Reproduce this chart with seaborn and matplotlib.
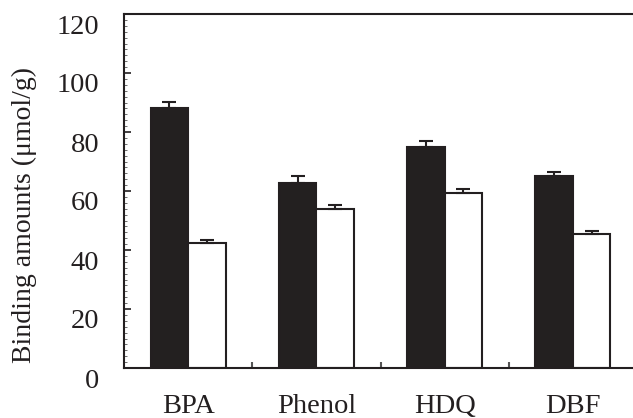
import matplotlib
matplotlib.use("Agg")
import matplotlib.pyplot as plt
import matplotlib.transforms as mtransforms
import pandas as pd
import seaborn as sns
from matplotlib.ticker import MultipleLocator, FixedLocator

compounds = ["BPA", "Phenol", "HDQ", "DBF"]
series = ["MIP", "NIP"]
mip_values = [88.2, 62.7, 75.0, 65.1]
nip_values = [42.3, 54.0, 59.2, 45.4]
mip_err = [2.0, 2.3, 2.0, 1.5]
nip_err = [1.2, 1.4, 1.5, 1.0]

df = pd.DataFrame({
    "compound": compounds * 2,
    "polymer": [series[0]] * 4 + [series[1]] * 4,
    "value": mip_values + nip_values,
})

sns.set_style("ticks")
plt.rcParams["font.family"] = ["Liberation Serif", "DejaVu Serif"]

dark = "#231f20"
fig = plt.figure(figsize=(6.33, 4.18), dpi=100)
ax = fig.add_axes([124 / 633, 50 / 418, 509 / 633, 354 / 418])

sns.barplot(data=df, x="compound", y="value", hue="polymer",
            hue_order=series, order=compounds,
            palette=[dark, "white"], edgecolor=dark, linewidth=1.5,
            width=0.585, errorbar=None, legend=False, ax=ax)

# upper error bars only
for cont, errs in zip(ax.containers, [mip_err, nip_err]):
    xs = [p.get_x() + p.get_width() / 2 for p in cont.patches]
    ys = [p.get_height() for p in cont.patches]
    ax.errorbar(xs, ys, yerr=[[0] * len(errs), errs], fmt="none",
                ecolor=dark, elinewidth=1.5, capsize=5, capthick=1.5, zorder=3)

ax.set_ylim(0, 120)
ax.set_xlim(-0.5, 3.5 - 4 / 128)
ax.yaxis.set_major_locator(MultipleLocator(20))
ax.yaxis.set_minor_locator(MultipleLocator(2))
ax.xaxis.set_minor_locator(FixedLocator([0.5, 1.5, 2.5]))

ax.tick_params(axis="y", which="major", direction="in", length=5, width=1.2,
               color=dark, labelsize=20.5, pad=18, labelcolor=dark)
ax.tick_params(axis="y", which="minor", direction="in", length=2, width=0.6,
               color="#555555")
ax.tick_params(axis="x", which="major", length=0, labelsize=20.5, pad=19,
               labelcolor=dark)
ax.tick_params(axis="x", which="minor", direction="in", length=4, width=1.5,
               color="#555555")

# y tick labels sit a little below their ticks in the original
shift = mtransforms.ScaledTranslation(0, -0.10, fig.dpi_scale_trans)
for lab in ax.get_yticklabels():
    lab.set_transform(lab.get_transform() + shift)

ax.set_xlabel("")
ax.set_ylabel("Binding amounts (μmol/g)", fontsize=20, color=dark)
ax.yaxis.set_label_coords(-0.171, 0.432)

for side in ["left", "top", "bottom"]:
    ax.spines[side].set_linewidth(1.5)
    ax.spines[side].set_color(dark)
ax.spines["right"].set_visible(False)

fig.savefig("out.png", dpi=100)
